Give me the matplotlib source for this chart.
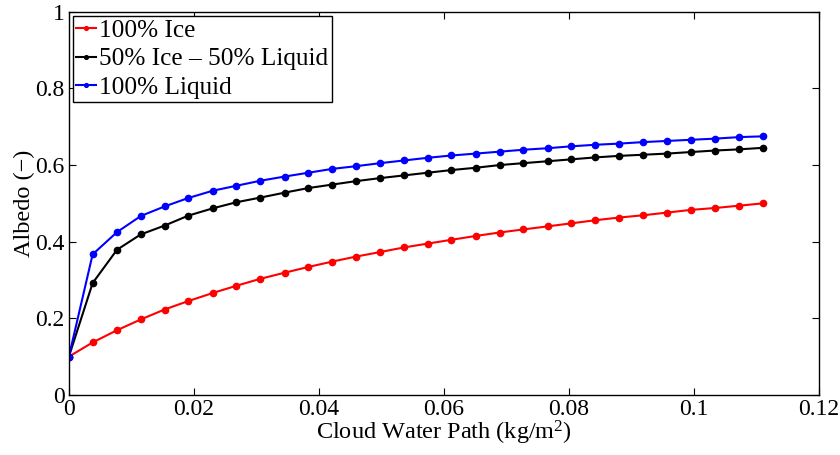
import matplotlib
matplotlib.use("Agg")
import matplotlib.pyplot as plt

# cloud water path (kg/m^2)
cwp = [0, 0.0038, 0.0077, 0.0115, 0.0153, 0.0191, 0.0230, 0.0268, 0.0306, 0.0345,
       0.0383, 0.0421, 0.0459, 0.0498, 0.0536, 0.0574, 0.0612, 0.0651, 0.0689, 0.0727,
       0.0766, 0.0804, 0.0842, 0.0880, 0.0919, 0.0957, 0.0995, 0.1034, 0.1072, 0.1110]

albedo_ice = [0.100, 0.137, 0.169, 0.197, 0.223, 0.245, 0.266, 0.285, 0.303, 0.319,
              0.334, 0.348, 0.361, 0.373, 0.385, 0.395, 0.405, 0.415, 0.424, 0.432,
              0.440, 0.448, 0.456, 0.463, 0.469, 0.476, 0.483, 0.488, 0.494, 0.500]

albedo_mix = [0.100, 0.292, 0.379, 0.419, 0.442, 0.468, 0.487, 0.503, 0.515, 0.528,
              0.540, 0.549, 0.558, 0.566, 0.573, 0.580, 0.587, 0.593, 0.600, 0.605,
              0.610, 0.615, 0.620, 0.624, 0.627, 0.630, 0.634, 0.638, 0.641, 0.645]

albedo_liq = [0.100, 0.367, 0.425, 0.467, 0.492, 0.514, 0.533, 0.546, 0.559, 0.570,
              0.580, 0.590, 0.597, 0.605, 0.612, 0.619, 0.625, 0.630, 0.635, 0.640,
              0.644, 0.649, 0.653, 0.656, 0.660, 0.663, 0.666, 0.669, 0.673, 0.675]

plt.rcParams['font.family'] = ['Liberation Serif', 'DejaVu Serif']
plt.rcParams['mathtext.fontset'] = 'custom'
plt.rcParams['mathtext.rm'] = 'Liberation Serif'
plt.rcParams['mathtext.it'] = 'Liberation Serif:italic'

fig = plt.figure(figsize=(8.4, 4.55), dpi=100)
ax = fig.add_axes([0.082, 0.132, 0.893, 0.842])

ax.plot(cwp, albedo_ice, '-o', color='red', lw=1.5, ms=4.5, label='100% Ice')
ax.plot(cwp, albedo_mix, '-o', color='black', lw=1.5, ms=4.5, label='50% Ice \u2013 50% Liquid')
ax.plot(cwp, albedo_liq, '-o', color='blue', lw=1.5, ms=4.5, label='100% Liquid')

ax.set_xlim(0, 0.12)
ax.set_ylim(0, 1)
ax.set_xticks([0, 0.02, 0.04, 0.06, 0.08, 0.1, 0.12])
ax.set_xticklabels(['0', '0.02', '0.04', '0.06', '0.08', '0.1', '0.12'])
ax.set_yticks([0, 0.2, 0.4, 0.6, 0.8, 1])
ax.set_yticklabels(['0', '0.2', '0.4', '0.6', '0.8', '1'])
ax.tick_params(direction='in', top=True, right=True, labelsize=17, length=5)
ax.tick_params(axis='x', pad=3)
ax.tick_params(axis='y', pad=3)
for s in ax.spines.values():
    s.set_linewidth(1.0)

ax.set_xlabel('Cloud Water Path (kg/m$^2$)', fontsize=17.5, labelpad=-1)
ax.set_ylabel('Albedo (\u2212)', fontsize=17.5, labelpad=0)

leg = ax.legend(loc='upper left', fontsize=18.2, fancybox=False, edgecolor='black',
                framealpha=1, handlelength=0.78, handletextpad=0.1, borderpad=0.15,
                labelspacing=0.22, borderaxespad=0.15, markerscale=0.6)
leg.get_frame().set_linewidth(1.0)

fig.savefig('out.png', dpi=100)
